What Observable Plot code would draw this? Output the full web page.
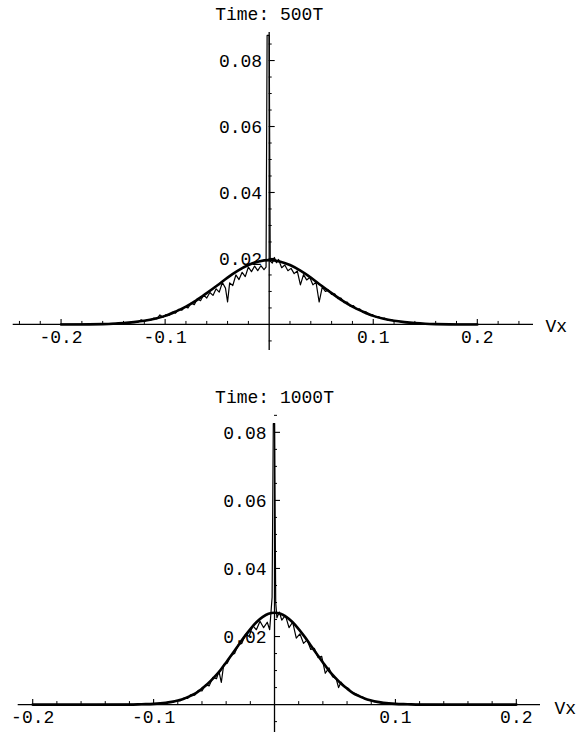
<!DOCTYPE html>
<html><head><meta charset="utf-8">
<script src="https://cdn.jsdelivr.net/npm/d3@7"></script>
<script src="https://cdn.jsdelivr.net/npm/@observablehq/plot@0.6"></script>
<style>body{margin:0;background:#fff} #chart svg{display:block}</style>
</head><body><div id="chart"></div><script>
// ---- Titles and tick labels ----
const titles = ["Time: 500T", "Time: 1000T"];
const xMajorTicks = [-0.2, -0.1, 0.1, 0.2];
const xMajorLabels = ["-0.2", "-0.1", "0.1", "0.2"];
const xMinorTop = [-0.24,-0.22,-0.18,-0.16,-0.14,-0.12,-0.08,-0.06,-0.04,-0.02,0.02,0.04,0.06,0.08,0.12,0.14,0.16,0.18,0.22,0.24];
const xMinorBottom = [-0.18,-0.16,-0.14,-0.12,-0.08,-0.06,-0.04,-0.02,0.02,0.04,0.06,0.08,0.12,0.14,0.16,0.18];
const yMajorTicks = [0.02, 0.04, 0.06, 0.08];
const yMajorLabels = ["0.02", "0.04", "0.06", "0.08"];
const yMinorTicks = [-0.005,0.005,0.01,0.015,0.025,0.03,0.035,0.045,0.05,0.055,0.065,0.07,0.075,0.085];

// ---- Time 500T: fitted curve ----
const fitTopX = [-0.20,-0.18,-0.16,-0.15,-0.14,-0.13,-0.12,-0.11,-0.10,-0.09,-0.08,-0.07,-0.06,-0.05,-0.04,-0.03,-0.02,-0.01,0,0.01,0.02,0.03,0.04,0.05,0.06,0.07,0.08,0.09,0.10,0.11,0.12,0.13,0.14,0.15,0.16,0.18,0.20];
const fitTopY = [0,0,0.0001,0.0002,0.0004,0.0007,0.0011,0.0017,0.0026,0.0039,0.0054,0.0073,0.0095,0.0118,0.0142,0.0163,0.0180,0.0191,0.0195,0.0191,0.0180,0.0163,0.0142,0.0118,0.0095,0.0073,0.0054,0.0039,0.0026,0.0017,0.0011,0.0007,0.0004,0.0002,0.0001,0,0];
// ---- Time 500T: measured distribution ----
const noiseTopX = [-0.200,-0.180,-0.160,-0.150,-0.145,-0.140,-0.135,-0.130,-0.126,-0.123,-0.120,-0.117,-0.114,-0.111,-0.108,-0.105,-0.102,-0.099,-0.096,-0.093,-0.090,-0.087,-0.084,-0.081,-0.078,-0.075,-0.072,-0.069,-0.066,-0.063,-0.060,-0.057,-0.054,-0.051,-0.048,-0.045,-0.042,-0.040,-0.038,-0.035,-0.032,-0.029,-0.026,-0.023,-0.020,-0.017,-0.014,-0.011,-0.008,-0.005,-0.003,-0.002,0.000,0.001,0.003,0.005,0.007,0.009,0.012,0.015,0.018,0.021,0.024,0.027,0.030,0.033,0.036,0.039,0.042,0.045,0.048,0.051,0.054,0.057,0.060,0.063,0.066,0.069,0.072,0.075,0.078,0.081,0.084,0.087,0.090,0.093,0.096,0.099,0.102,0.105,0.108,0.111,0.114,0.117,0.120,0.125,0.130,0.135,0.140,0.150,0.160,0.180,0.200];
const noiseTopY = [0,0.0001,0.0002,0.0003,0.0002,0.0005,0.0004,0.0008,0.0007,0.0014,0.0009,0.0014,0.0013,0.0019,0.0017,0.0029,0.0022,0.0030,0.0028,0.0037,0.0034,0.0046,0.0043,0.0053,0.0050,0.0065,0.0060,0.0078,0.0072,0.0089,0.0080,0.0097,0.0088,0.0108,0.0098,0.0127,0.0110,0.0068,0.0126,0.0118,0.0150,0.0136,0.0158,0.0145,0.0174,0.0160,0.0177,0.0163,0.0178,0.0166,0.0174,0.0876,0.0876,0.0192,0.0186,0.0203,0.0187,0.0197,0.0172,0.0180,0.0163,0.0170,0.0154,0.0162,0.0120,0.0151,0.0135,0.0142,0.0120,0.0128,0.0068,0.0113,0.0100,0.0104,0.0091,0.0093,0.0078,0.0080,0.0066,0.0068,0.0055,0.0057,0.0046,0.0047,0.0037,0.0038,0.0029,0.0030,0.0023,0.0024,0.0018,0.0019,0.0013,0.0015,0.0010,0.0009,0.0006,0.0005,0.0003,0.0002,0.0001,0,0];

// ---- Time 1000T: fitted curve ----
const fitBotX = [-0.20,-0.15,-0.12,-0.11,-0.10,-0.09,-0.085,-0.08,-0.075,-0.07,-0.065,-0.06,-0.055,-0.05,-0.045,-0.04,-0.035,-0.03,-0.025,-0.02,-0.015,-0.01,-0.005,0,0.005,0.01,0.015,0.02,0.025,0.03,0.035,0.04,0.045,0.05,0.055,0.06,0.065,0.07,0.075,0.08,0.085,0.09,0.10,0.11,0.12,0.15,0.20];
const fitBotY = [0,0,0,0.0001,0.0002,0.0005,0.0008,0.0012,0.0017,0.0025,0.0034,0.0047,0.0062,0.0080,0.0100,0.0124,0.0149,0.0174,0.0199,0.0222,0.0242,0.0257,0.0267,0.0270,0.0267,0.0257,0.0242,0.0222,0.0199,0.0174,0.0149,0.0124,0.0100,0.0080,0.0062,0.0047,0.0034,0.0025,0.0017,0.0012,0.0008,0.0005,0.0002,0.0001,0,0,0];
// ---- Time 1000T: measured distribution ----
const noiseBotX = [-0.200,-0.150,-0.120,-0.110,-0.100,-0.096,-0.093,-0.090,-0.087,-0.084,-0.081,-0.078,-0.075,-0.072,-0.069,-0.066,-0.063,-0.060,-0.057,-0.054,-0.051,-0.048,-0.046,-0.044,-0.042,-0.039,-0.036,-0.033,-0.030,-0.027,-0.024,-0.021,-0.018,-0.015,-0.012,-0.009,-0.006,-0.004,-0.002,-0.001,0.000,0.001,0.002,0.004,0.006,0.009,0.012,0.015,0.018,0.021,0.024,0.027,0.030,0.033,0.036,0.039,0.042,0.045,0.048,0.051,0.053,0.055,0.058,0.061,0.064,0.067,0.070,0.073,0.076,0.079,0.082,0.085,0.088,0.092,0.096,0.100,0.110,0.150,0.200];
const noiseBotY = [0,0,0.0001,0.0001,0.0003,0.0002,0.0005,0.0004,0.0008,0.0007,0.0012,0.0011,0.0019,0.0018,0.0029,0.0028,0.0042,0.0040,0.0058,0.0055,0.0080,0.0076,0.0098,0.0065,0.0118,0.0122,0.0145,0.0150,0.0176,0.0180,0.0207,0.0200,0.0232,0.0220,0.0245,0.0226,0.0242,0.0220,0.0315,0.0826,0.0826,0.0300,0.0255,0.0272,0.0248,0.0262,0.0226,0.0242,0.0195,0.0208,0.0180,0.0190,0.0162,0.0165,0.0138,0.0142,0.0092,0.0108,0.0082,0.0076,0.0050,0.0066,0.0052,0.0048,0.0036,0.0032,0.0025,0.0022,0.0015,0.0014,0.0009,0.0008,0.0005,0.0004,0.0002,0.0002,0.0001,0,0];

const FONT = "'Liberation Mono', 'DejaVu Sans Mono', monospace";

function panel(o) {
  const [x0, x1] = o.xDomain, [y0, y1] = o.yDomain;
  const innerH = o.height - o.mt - o.mb, innerW = o.width - o.ml - o.mr;
  const py = (y1 - y0) / innerH, px = (x1 - x0) / innerW;
  const noise = d3.zip(o.noiseX, o.noiseY).map(([x, y]) => ({x, y}));
  const fit = d3.zip(o.fitX, o.fitY).map(([x, y]) => ({x, y}));
  return Plot.plot({
    width: o.width, height: o.height,
    marginTop: o.mt, marginBottom: o.mb, marginLeft: o.ml, marginRight: o.mr,
    x: {domain: o.xDomain, axis: null},
    y: {domain: o.yDomain, axis: null},
    style: {fontFamily: FONT, fontSize: "18px", color: "black", background: "white", overflow: "visible"},
    marks: [
      Plot.ruleY([0], {x1: x0, x2: x1, stroke: "black", strokeWidth: 1.3}),
      Plot.ruleX([0], {y1: y0, y2: y1, stroke: "black", strokeWidth: 1.3}),
      Plot.ruleX(o.xMinor, {x: d => d, y1: 0, y2: 3 * py, stroke: "black", strokeWidth: 1}),
      Plot.ruleX(xMajorTicks, {x: d => d, y1: 0, y2: 5 * py, stroke: "black", strokeWidth: 1.1}),
      Plot.ruleY(yMinorTicks, {y: d => d, x1: 0, x2: 3 * px, stroke: "black", strokeWidth: 1}),
      Plot.ruleY(yMajorTicks, {y: d => d, x1: 0, x2: 6 * px, stroke: "black", strokeWidth: 1.1}),
      Plot.text(xMajorTicks, {x: d => d, y: 0, text: (d, i) => xMajorLabels[i], dy: 13, fill: "black"}),
      Plot.text(yMajorTicks, {x: 0, y: d => d, text: (d, i) => yMajorLabels[i], textAnchor: "end", dx: o.ylDx, dy: 1, fill: "black"}),
      Plot.text([o.title], {x: 0, frameAnchor: "top", lineAnchor: "middle", dy: o.titleDy, text: d => d, fill: "black"}),
      Plot.text(["Vx"], {x: x1, y: 0, text: d => d, textAnchor: "start", dx: o.vxDx, dy: o.vxDy, fill: "black"}),
      Plot.line(fit, {x: "x", y: "y", curve: "catmull-rom", stroke: "black", strokeWidth: 2.6}),
      Plot.line(noise, {x: "x", y: "y", stroke: "black", strokeWidth: 1.2})
    ]
  });
}

const chart = document.getElementById("chart");
chart.append(panel({
  title: titles[0], width: 576, height: 360, mt: 32, mb: 10, ml: 12.7, mr: 43,
  xDomain: [-0.246, 0.254], yDomain: [-0.0079, 0.0885],
  xMinor: xMinorTop, noiseX: noiseTopX, noiseY: noiseTopY, fitX: fitTopX, fitY: fitTopY,
  titleDy: -18, vxDx: 12, vxDy: 2, ylDx: -7
}));
chart.append(panel({
  title: titles[1], width: 576, height: 372, mt: 63, mb: 0, ml: 17.7, mr: 36,
  xDomain: [-0.212, 0.22], yDomain: [-0.0082, 0.0826],
  xMinor: xMinorBottom, noiseX: noiseBotX, noiseY: noiseBotY, fitX: fitBotX, fitY: fitBotY,
  titleDy: -26, vxDx: 14, vxDy: 4, ylDx: -8
}));
</script></body></html>
